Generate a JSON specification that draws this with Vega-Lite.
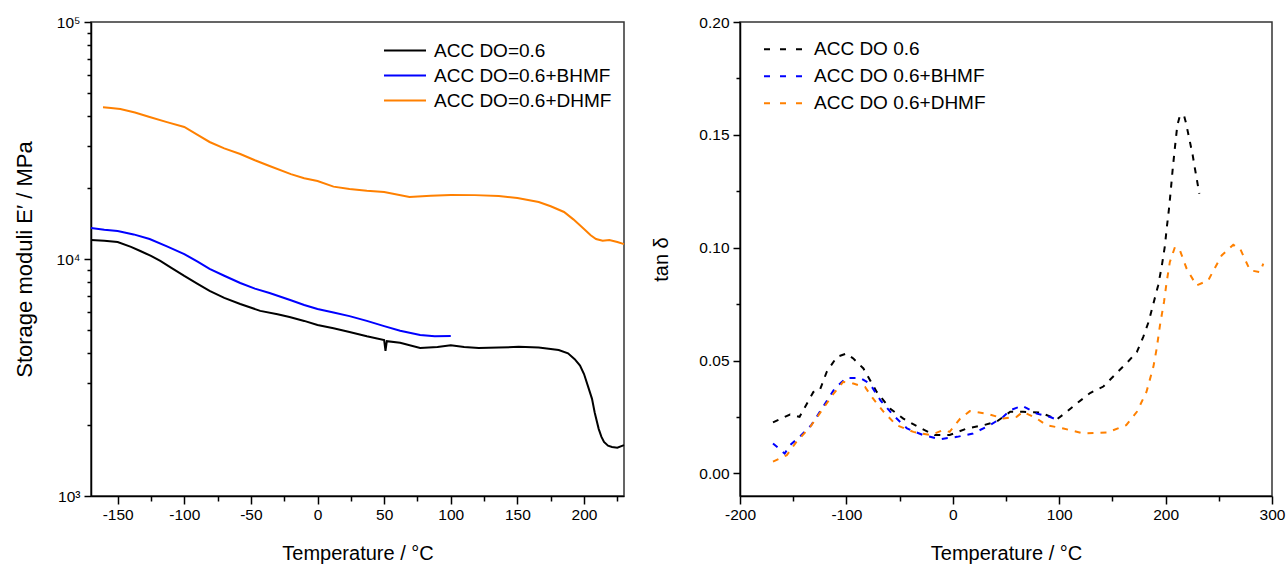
{
  "$schema": "https://vega.github.io/schema/vega-lite/v6.json",
  "padding": {"left": 12, "top": 14, "right": 0, "bottom": 5},
  "background": "white",
  "spacing": 116,
  "bounds": "flush",
  "config": {
    "font": "Liberation Sans",
    "view": {"stroke": "#333", "strokeWidth": 1.5},
    "axis": {"grid": false, "domainColor": "#000", "domainWidth": 1.5, "tickColor": "#000", "tickWidth": 1.5, "labelFlush": false,
      "labelFont": "Liberation Sans", "labelFontSize": 15.5, "labelColor": "#000",
      "titleFont": "Liberation Sans", "titleFontSize": 20, "titleFontWeight": "normal", "titleColor": "#000"},
    "legend": {"orient": "none", "symbolType": "stroke", "symbolSize": 1764, "symbolStrokeWidth": 2,
      "labelFont": "Liberation Sans", "labelFontSize": 19, "labelColor": "#000", "labelOffset": 7,
      "rowPadding": 0, "padding": 0, "title": null, "labelLimit": 400}
  },
  "datasets": {
    "storage": [
      {"T": -170, "E": 12030, "s": "ACC DO=0.6"}, {"T": -160, "E": 11950, "s": "ACC DO=0.6"}, {"T": -150, "E": 11800, "s": "ACC DO=0.6"},
      {"T": -140, "E": 11250, "s": "ACC DO=0.6"}, {"T": -133, "E": 10810, "s": "ACC DO=0.6"}, {"T": -125, "E": 10300, "s": "ACC DO=0.6"},
      {"T": -118, "E": 9810, "s": "ACC DO=0.6"}, {"T": -110, "E": 9200, "s": "ACC DO=0.6"}, {"T": -100, "E": 8480, "s": "ACC DO=0.6"},
      {"T": -90, "E": 7850, "s": "ACC DO=0.6"}, {"T": -81, "E": 7330, "s": "ACC DO=0.6"}, {"T": -70, "E": 6850, "s": "ACC DO=0.6"},
      {"T": -58, "E": 6460, "s": "ACC DO=0.6"}, {"T": -43, "E": 6040, "s": "ACC DO=0.6"}, {"T": -30, "E": 5850, "s": "ACC DO=0.6"},
      {"T": -21, "E": 5690, "s": "ACC DO=0.6"}, {"T": -10, "E": 5480, "s": "ACC DO=0.6"}, {"T": 0, "E": 5270, "s": "ACC DO=0.6"},
      {"T": 12, "E": 5100, "s": "ACC DO=0.6"}, {"T": 24, "E": 4920, "s": "ACC DO=0.6"}, {"T": 37, "E": 4720, "s": "ACC DO=0.6"},
      {"T": 50, "E": 4550, "s": "ACC DO=0.6"}, {"T": 51, "E": 4100, "s": "ACC DO=0.6"}, {"T": 52, "E": 4500, "s": "ACC DO=0.6"},
      {"T": 62, "E": 4430, "s": "ACC DO=0.6"}, {"T": 77, "E": 4210, "s": "ACC DO=0.6"}, {"T": 90, "E": 4250, "s": "ACC DO=0.6"},
      {"T": 100, "E": 4330, "s": "ACC DO=0.6"}, {"T": 110, "E": 4250, "s": "ACC DO=0.6"}, {"T": 121, "E": 4210, "s": "ACC DO=0.6"},
      {"T": 136, "E": 4230, "s": "ACC DO=0.6"}, {"T": 151, "E": 4260, "s": "ACC DO=0.6"}, {"T": 166, "E": 4230, "s": "ACC DO=0.6"},
      {"T": 181, "E": 4130, "s": "ACC DO=0.6"}, {"T": 188, "E": 4000, "s": "ACC DO=0.6"}, {"T": 193, "E": 3780, "s": "ACC DO=0.6"},
      {"T": 197, "E": 3550, "s": "ACC DO=0.6"}, {"T": 200, "E": 3270, "s": "ACC DO=0.6"}, {"T": 203, "E": 2900, "s": "ACC DO=0.6"},
      {"T": 206, "E": 2570, "s": "ACC DO=0.6"}, {"T": 208, "E": 2250, "s": "ACC DO=0.6"}, {"T": 211, "E": 1920, "s": "ACC DO=0.6"},
      {"T": 213, "E": 1780, "s": "ACC DO=0.6"}, {"T": 215, "E": 1690, "s": "ACC DO=0.6"}, {"T": 218, "E": 1630, "s": "ACC DO=0.6"},
      {"T": 221, "E": 1610, "s": "ACC DO=0.6"}, {"T": 225, "E": 1600, "s": "ACC DO=0.6"}, {"T": 230, "E": 1640, "s": "ACC DO=0.6"},

      {"T": -170, "E": 13520, "s": "ACC DO=0.6+BHMF"}, {"T": -160, "E": 13300, "s": "ACC DO=0.6+BHMF"}, {"T": -150, "E": 13130, "s": "ACC DO=0.6+BHMF"},
      {"T": -138, "E": 12700, "s": "ACC DO=0.6+BHMF"}, {"T": -126, "E": 12140, "s": "ACC DO=0.6+BHMF"}, {"T": -113, "E": 11300, "s": "ACC DO=0.6+BHMF"},
      {"T": -100, "E": 10490, "s": "ACC DO=0.6+BHMF"}, {"T": -90, "E": 9750, "s": "ACC DO=0.6+BHMF"}, {"T": -81, "E": 9080, "s": "ACC DO=0.6+BHMF"},
      {"T": -70, "E": 8500, "s": "ACC DO=0.6+BHMF"}, {"T": -58, "E": 7920, "s": "ACC DO=0.6+BHMF"}, {"T": -47, "E": 7500, "s": "ACC DO=0.6+BHMF"},
      {"T": -36, "E": 7190, "s": "ACC DO=0.6+BHMF"}, {"T": -20, "E": 6700, "s": "ACC DO=0.6+BHMF"}, {"T": -10, "E": 6400, "s": "ACC DO=0.6+BHMF"},
      {"T": 0, "E": 6150, "s": "ACC DO=0.6+BHMF"}, {"T": 12, "E": 5950, "s": "ACC DO=0.6+BHMF"}, {"T": 24, "E": 5740, "s": "ACC DO=0.6+BHMF"},
      {"T": 37, "E": 5480, "s": "ACC DO=0.6+BHMF"}, {"T": 50, "E": 5210, "s": "ACC DO=0.6+BHMF"}, {"T": 62, "E": 4980, "s": "ACC DO=0.6+BHMF"},
      {"T": 77, "E": 4780, "s": "ACC DO=0.6+BHMF"}, {"T": 88, "E": 4720, "s": "ACC DO=0.6+BHMF"}, {"T": 100, "E": 4730, "s": "ACC DO=0.6+BHMF"},

      {"T": -161, "E": 43700, "s": "ACC DO=0.6+DHMF"}, {"T": -155, "E": 43400, "s": "ACC DO=0.6+DHMF"}, {"T": -148, "E": 42950, "s": "ACC DO=0.6+DHMF"},
      {"T": -137, "E": 41500, "s": "ACC DO=0.6+DHMF"}, {"T": -126, "E": 39720, "s": "ACC DO=0.6+DHMF"}, {"T": -113, "E": 37800, "s": "ACC DO=0.6+DHMF"},
      {"T": -100, "E": 36050, "s": "ACC DO=0.6+DHMF"}, {"T": -90, "E": 33400, "s": "ACC DO=0.6+DHMF"}, {"T": -81, "E": 31170, "s": "ACC DO=0.6+DHMF"},
      {"T": -70, "E": 29300, "s": "ACC DO=0.6+DHMF"}, {"T": -58, "E": 27740, "s": "ACC DO=0.6+DHMF"}, {"T": -47, "E": 26100, "s": "ACC DO=0.6+DHMF"},
      {"T": -36, "E": 24680, "s": "ACC DO=0.6+DHMF"}, {"T": -20, "E": 22800, "s": "ACC DO=0.6+DHMF"}, {"T": -10, "E": 21900, "s": "ACC DO=0.6+DHMF"},
      {"T": 0, "E": 21330, "s": "ACC DO=0.6+DHMF"}, {"T": 12, "E": 20200, "s": "ACC DO=0.6+DHMF"}, {"T": 24, "E": 19720, "s": "ACC DO=0.6+DHMF"},
      {"T": 37, "E": 19400, "s": "ACC DO=0.6+DHMF"}, {"T": 50, "E": 19170, "s": "ACC DO=0.6+DHMF"}, {"T": 69, "E": 18270, "s": "ACC DO=0.6+DHMF"},
      {"T": 85, "E": 18500, "s": "ACC DO=0.6+DHMF"}, {"T": 100, "E": 18640, "s": "ACC DO=0.6+DHMF"}, {"T": 118, "E": 18600, "s": "ACC DO=0.6+DHMF"},
      {"T": 136, "E": 18450, "s": "ACC DO=0.6+DHMF"}, {"T": 150, "E": 18100, "s": "ACC DO=0.6+DHMF"}, {"T": 166, "E": 17400, "s": "ACC DO=0.6+DHMF"},
      {"T": 175, "E": 16700, "s": "ACC DO=0.6+DHMF"}, {"T": 185, "E": 15790, "s": "ACC DO=0.6+DHMF"}, {"T": 192, "E": 14700, "s": "ACC DO=0.6+DHMF"},
      {"T": 200, "E": 13390, "s": "ACC DO=0.6+DHMF"}, {"T": 205, "E": 12600, "s": "ACC DO=0.6+DHMF"}, {"T": 209, "E": 12150, "s": "ACC DO=0.6+DHMF"},
      {"T": 214, "E": 11950, "s": "ACC DO=0.6+DHMF"}, {"T": 219, "E": 12030, "s": "ACC DO=0.6+DHMF"}, {"T": 225, "E": 11800, "s": "ACC DO=0.6+DHMF"},
      {"T": 230, "E": 11560, "s": "ACC DO=0.6+DHMF"}
    ],
    "tand": [
      {"T": -169, "v": 0.0226, "s": "ACC DO 0.6"}, {"T": -153, "v": 0.0261, "s": "ACC DO 0.6"}, {"T": -144, "v": 0.0251, "s": "ACC DO 0.6"},
      {"T": -131, "v": 0.0361, "s": "ACC DO 0.6"}, {"T": -125, "v": 0.0369, "s": "ACC DO 0.6"}, {"T": -118.5, "v": 0.045, "s": "ACC DO 0.6"},
      {"T": -109, "v": 0.0516, "s": "ACC DO 0.6"}, {"T": -100, "v": 0.0531, "s": "ACC DO 0.6"}, {"T": -93.5, "v": 0.0509, "s": "ACC DO 0.6"},
      {"T": -84, "v": 0.0465, "s": "ACC DO 0.6"}, {"T": -71.5, "v": 0.0361, "s": "ACC DO 0.6"}, {"T": -59, "v": 0.0288, "s": "ACC DO 0.6"},
      {"T": -46.5, "v": 0.0243, "s": "ACC DO 0.6"}, {"T": -31, "v": 0.0202, "s": "ACC DO 0.6"}, {"T": -17, "v": 0.017, "s": "ACC DO 0.6"},
      {"T": -3, "v": 0.017, "s": "ACC DO 0.6"}, {"T": 13, "v": 0.0199, "s": "ACC DO 0.6"}, {"T": 29, "v": 0.0214, "s": "ACC DO 0.6"},
      {"T": 41, "v": 0.0229, "s": "ACC DO 0.6"}, {"T": 54, "v": 0.0273, "s": "ACC DO 0.6"}, {"T": 66, "v": 0.0273, "s": "ACC DO 0.6"},
      {"T": 82, "v": 0.027, "s": "ACC DO 0.6"}, {"T": 98, "v": 0.024, "s": "ACC DO 0.6"}, {"T": 107, "v": 0.0273, "s": "ACC DO 0.6"},
      {"T": 116.5, "v": 0.031, "s": "ACC DO 0.6"}, {"T": 129, "v": 0.0356, "s": "ACC DO 0.6"}, {"T": 141.5, "v": 0.0385, "s": "ACC DO 0.6"},
      {"T": 154, "v": 0.0445, "s": "ACC DO 0.6"}, {"T": 165, "v": 0.0497, "s": "ACC DO 0.6"}, {"T": 173, "v": 0.0538, "s": "ACC DO 0.6"},
      {"T": 179, "v": 0.0605, "s": "ACC DO 0.6"}, {"T": 184, "v": 0.0671, "s": "ACC DO 0.6"}, {"T": 188.5, "v": 0.0752, "s": "ACC DO 0.6"},
      {"T": 193, "v": 0.0833, "s": "ACC DO 0.6"}, {"T": 196.3, "v": 0.0915, "s": "ACC DO 0.6"}, {"T": 199.4, "v": 0.101, "s": "ACC DO 0.6"},
      {"T": 201, "v": 0.1084, "s": "ACC DO 0.6"}, {"T": 203.2, "v": 0.1173, "s": "ACC DO 0.6"}, {"T": 205, "v": 0.1261, "s": "ACC DO 0.6"},
      {"T": 206.7, "v": 0.135, "s": "ACC DO 0.6"}, {"T": 208.8, "v": 0.1446, "s": "ACC DO 0.6"}, {"T": 211, "v": 0.1541, "s": "ACC DO 0.6"},
      {"T": 213.5, "v": 0.1586, "s": "ACC DO 0.6"}, {"T": 217.3, "v": 0.1586, "s": "ACC DO 0.6"}, {"T": 219, "v": 0.1556, "s": "ACC DO 0.6"},
      {"T": 222.3, "v": 0.1482, "s": "ACC DO 0.6"}, {"T": 225.5, "v": 0.1409, "s": "ACC DO 0.6"}, {"T": 227.6, "v": 0.135, "s": "ACC DO 0.6"},
      {"T": 231.7, "v": 0.1239, "s": "ACC DO 0.6"},

      {"T": -169, "v": 0.0133, "s": "ACC DO 0.6+BHMF"}, {"T": -158, "v": 0.0088, "s": "ACC DO 0.6+BHMF"}, {"T": -153, "v": 0.0125, "s": "ACC DO 0.6+BHMF"},
      {"T": -144, "v": 0.0162, "s": "ACC DO 0.6+BHMF"}, {"T": -133, "v": 0.0214, "s": "ACC DO 0.6+BHMF"}, {"T": -122, "v": 0.0295, "s": "ACC DO 0.6+BHMF"},
      {"T": -111, "v": 0.0376, "s": "ACC DO 0.6+BHMF"}, {"T": -100, "v": 0.0423, "s": "ACC DO 0.6+BHMF"}, {"T": -87, "v": 0.0423, "s": "ACC DO 0.6+BHMF"},
      {"T": -78, "v": 0.0398, "s": "ACC DO 0.6+BHMF"}, {"T": -68, "v": 0.0324, "s": "ACC DO 0.6+BHMF"}, {"T": -56, "v": 0.0258, "s": "ACC DO 0.6+BHMF"},
      {"T": -43, "v": 0.0199, "s": "ACC DO 0.6+BHMF"}, {"T": -28, "v": 0.017, "s": "ACC DO 0.6+BHMF"}, {"T": -12, "v": 0.0152, "s": "ACC DO 0.6+BHMF"},
      {"T": 4, "v": 0.0162, "s": "ACC DO 0.6+BHMF"}, {"T": 19, "v": 0.0177, "s": "ACC DO 0.6+BHMF"}, {"T": 35, "v": 0.0214, "s": "ACC DO 0.6+BHMF"},
      {"T": 47.5, "v": 0.0251, "s": "ACC DO 0.6+BHMF"}, {"T": 54, "v": 0.028, "s": "ACC DO 0.6+BHMF"}, {"T": 65, "v": 0.03, "s": "ACC DO 0.6+BHMF"},
      {"T": 79, "v": 0.0265, "s": "ACC DO 0.6+BHMF"}, {"T": 91, "v": 0.0251, "s": "ACC DO 0.6+BHMF"}, {"T": 99, "v": 0.0236, "s": "ACC DO 0.6+BHMF"},

      {"T": -169, "v": 0.0052, "s": "ACC DO 0.6+DHMF"}, {"T": -156, "v": 0.0081, "s": "ACC DO 0.6+DHMF"}, {"T": -147, "v": 0.014, "s": "ACC DO 0.6+DHMF"},
      {"T": -134, "v": 0.0206, "s": "ACC DO 0.6+DHMF"}, {"T": -123, "v": 0.028, "s": "ACC DO 0.6+DHMF"}, {"T": -112, "v": 0.0354, "s": "ACC DO 0.6+DHMF"},
      {"T": -103, "v": 0.0406, "s": "ACC DO 0.6+DHMF"}, {"T": -93.5, "v": 0.0398, "s": "ACC DO 0.6+DHMF"}, {"T": -82.5, "v": 0.0383, "s": "ACC DO 0.6+DHMF"},
      {"T": -75, "v": 0.0332, "s": "ACC DO 0.6+DHMF"}, {"T": -65, "v": 0.0273, "s": "ACC DO 0.6+DHMF"}, {"T": -53, "v": 0.0214, "s": "ACC DO 0.6+DHMF"},
      {"T": -37, "v": 0.0184, "s": "ACC DO 0.6+DHMF"}, {"T": -21, "v": 0.017, "s": "ACC DO 0.6+DHMF"}, {"T": -9, "v": 0.0192, "s": "ACC DO 0.6+DHMF"},
      {"T": -3, "v": 0.0184, "s": "ACC DO 0.6+DHMF"}, {"T": 7, "v": 0.0243, "s": "ACC DO 0.6+DHMF"}, {"T": 16, "v": 0.0276, "s": "ACC DO 0.6+DHMF"},
      {"T": 32, "v": 0.0265, "s": "ACC DO 0.6+DHMF"}, {"T": 47.5, "v": 0.0243, "s": "ACC DO 0.6+DHMF"}, {"T": 60, "v": 0.0251, "s": "ACC DO 0.6+DHMF"},
      {"T": 66, "v": 0.0273, "s": "ACC DO 0.6+DHMF"}, {"T": 79, "v": 0.0243, "s": "ACC DO 0.6+DHMF"}, {"T": 88, "v": 0.0214, "s": "ACC DO 0.6+DHMF"},
      {"T": 104, "v": 0.0199, "s": "ACC DO 0.6+DHMF"}, {"T": 123, "v": 0.0177, "s": "ACC DO 0.6+DHMF"}, {"T": 145, "v": 0.0181, "s": "ACC DO 0.6+DHMF"},
      {"T": 163, "v": 0.0214, "s": "ACC DO 0.6+DHMF"}, {"T": 173, "v": 0.0273, "s": "ACC DO 0.6+DHMF"}, {"T": 182, "v": 0.0361, "s": "ACC DO 0.6+DHMF"},
      {"T": 188.5, "v": 0.0472, "s": "ACC DO 0.6+DHMF"}, {"T": 191.6, "v": 0.0553, "s": "ACC DO 0.6+DHMF"}, {"T": 194.7, "v": 0.0656, "s": "ACC DO 0.6+DHMF"},
      {"T": 198.5, "v": 0.076, "s": "ACC DO 0.6+DHMF"}, {"T": 201, "v": 0.0848, "s": "ACC DO 0.6+DHMF"}, {"T": 204, "v": 0.0937, "s": "ACC DO 0.6+DHMF"},
      {"T": 208.8, "v": 0.1003, "s": "ACC DO 0.6+DHMF"}, {"T": 213.5, "v": 0.0988, "s": "ACC DO 0.6+DHMF"}, {"T": 219.8, "v": 0.0907, "s": "ACC DO 0.6+DHMF"},
      {"T": 229, "v": 0.0833, "s": "ACC DO 0.6+DHMF"}, {"T": 240, "v": 0.0855, "s": "ACC DO 0.6+DHMF"}, {"T": 252.7, "v": 0.0966, "s": "ACC DO 0.6+DHMF"},
      {"T": 263.6, "v": 0.1013, "s": "ACC DO 0.6+DHMF"}, {"T": 270, "v": 0.0996, "s": "ACC DO 0.6+DHMF"}, {"T": 279.3, "v": 0.09, "s": "ACC DO 0.6+DHMF"},
      {"T": 288.7, "v": 0.0892, "s": "ACC DO 0.6+DHMF"}, {"T": 291.8, "v": 0.0929, "s": "ACC DO 0.6+DHMF"}
    ]
  },
  "resolve": {"scale": {"color": "independent"}, "legend": {"color": "independent"}},
  "hconcat": [
    {
      "width": 533, "height": 474,
      "data": {"name": "storage"},
      "layer": [
        {
          "mark": {"type": "line", "strokeWidth": 2},
          "encoding": {
            "x": {"field": "T", "type": "quantitative",
              "scale": {"domain": [-170, 230], "nice": false, "zero": false},
              "axis": {"orient": "bottom", "values": [-150, -100, -50, 0, 50, 100, 150, 200], "tickSize": 8, "labelPadding": 3,
                "labelExpr": "replace(datum.label, '\u2212', '-')",
                "title": "Temperature / °C", "titlePadding": 21}},
            "y": {"field": "E", "type": "quantitative",
              "scale": {"type": "log", "domain": [1000, 100000], "nice": false},
              "axis": {"orient": "left", "values": [1000, 10000, 100000], "tickSize": 7, "labelPadding": 4,
                "labelExpr": "datum.value == 1000 ? '10³' : datum.value == 10000 ? '10⁴' : '10⁵'",
                "title": "Storage moduli E′ / MPa", "titleFontSize": 22, "titlePadding": 20}},
            "color": {"field": "s", "type": "nominal",
              "scale": {"domain": ["ACC DO=0.6", "ACC DO=0.6+BHMF", "ACC DO=0.6+DHMF"], "range": ["#000000", "#0000ff", "#ff8000"]},
              "legend": {"legendX": 292, "legendY": 16, "clipHeight": 25}}
          }
        },
        {
          "mark": {"type": "line", "strokeOpacity": 0},
          "encoding": {
            "x": {"field": "T", "type": "quantitative",
              "scale": {"domain": [-170, 230], "nice": false, "zero": false},
              "axis": {"orient": "bottom", "values": [-125, -75, -25, 25, 75, 125, 175, 225], "tickSize": 5, "labels": false, "domain": false, "title": null}},
            "y": {"field": "E", "type": "quantitative",
              "scale": {"type": "log", "domain": [1000, 100000], "nice": false},
              "axis": {"orient": "left", "values": [2000, 3000, 4000, 5000, 6000, 7000, 8000, 9000, 20000, 30000, 40000, 50000, 60000, 70000, 80000, 90000], "tickSize": 4, "labels": false, "domain": false, "title": null}},
            "detail": {"field": "s"}
          }
        }
      ],
      "resolve": {"scale": {"x": "independent", "y": "independent"}, "axis": {"x": "independent", "y": "independent"}}
    },
    {
      "width": 532, "height": 474,
      "data": {"name": "tand"},
      "layer": [
        {
          "mark": {"type": "line", "strokeWidth": 2, "strokeDash": [6, 7]},
          "encoding": {
            "x": {"field": "T", "type": "quantitative",
              "scale": {"domain": [-200, 300], "nice": false, "zero": false},
              "axis": {"orient": "bottom", "values": [-200, -100, 0, 100, 200, 300], "tickSize": 8, "labelPadding": 3,
                "labelExpr": "replace(datum.label, '\u2212', '-')",
                "title": "Temperature / °C", "titlePadding": 21}},
            "y": {"field": "v", "type": "quantitative",
              "scale": {"domain": [-0.01, 0.2], "nice": false, "zero": false},
              "axis": {"orient": "left", "values": [0, 0.05, 0.1, 0.15, 0.2], "format": ".2f", "tickSize": 7, "labelPadding": 4,
                "title": "tan δ", "titlePadding": 27}},
            "color": {"field": "s", "type": "nominal",
              "scale": {"domain": ["ACC DO 0.6", "ACC DO 0.6+BHMF", "ACC DO 0.6+DHMF"], "range": ["#000000", "#0000ff", "#ff8000"]},
              "legend": {"legendX": 23, "legendY": 14, "clipHeight": 26.5, "symbolDash": [6, 10]}}
          }
        },
        {
          "mark": {"type": "line", "strokeOpacity": 0},
          "encoding": {
            "x": {"field": "T", "type": "quantitative",
              "scale": {"domain": [-200, 300], "nice": false, "zero": false},
              "axis": {"orient": "bottom", "values": [-150, -50, 50, 150, 250], "tickSize": 5, "labels": false, "domain": false, "title": null}},
            "y": {"field": "v", "type": "quantitative",
              "scale": {"domain": [-0.01, 0.2], "nice": false, "zero": false},
              "axis": {"orient": "left", "values": [0.025, 0.075, 0.125, 0.175], "tickSize": 4, "labels": false, "domain": false, "title": null}},
            "detail": {"field": "s"}
          }
        }
      ],
      "resolve": {"scale": {"x": "independent", "y": "independent"}, "axis": {"x": "independent", "y": "independent"}}
    }
  ]
}
